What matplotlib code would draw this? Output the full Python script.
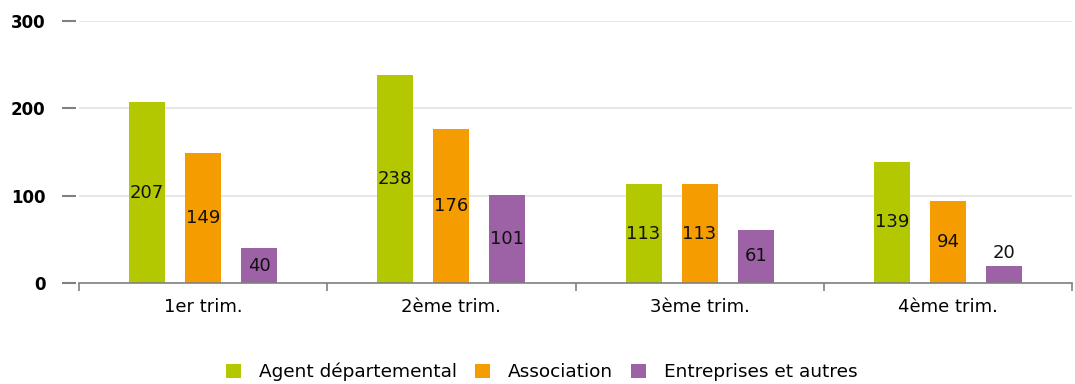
import numpy as np
import matplotlib
matplotlib.use("Agg")
import matplotlib.pyplot as plt

plt.rcParams['font.family'] = ['DejaVu Sans']

categories = ['1er trim.', '2ème trim.', '3ème trim.', '4ème trim.']
agent = [207, 238, 113, 139]
association = [149, 176, 113, 94]
entreprises = [40, 101, 61, 20]
series_names = ['Agent départemental', 'Association', 'Entreprises et autres']
colors = ['#b3c800', '#f59d00', '#9d62a6']

fig = plt.figure(figsize=(10.75, 3.84), dpi=100)
ax = fig.add_axes([79 / 1075, 1 - 283 / 384, (1072 - 79) / 1075, (283 - 21) / 384])

x = np.arange(len(categories))
width = 0.145
step = 0.226
for i, (vals, name, col) in enumerate(zip([agent, association, entreprises], series_names, colors)):
    pos = x + (i - 1) * step
    ax.bar(pos, vals, width=width, color=col, label=name, zorder=2)
    for p, v in zip(pos, vals):
        if v >= 30:
            ax.text(p, v / 2, str(v), ha='center', va='center', fontsize=13, color='#111111', zorder=3)
        else:
            ax.text(p, v + 4, str(v), ha='center', va='bottom', fontsize=13, color='#111111', zorder=3)

ax.set_xlim(-0.5, 3.5)
ax.set_ylim(0, 300)
ax.set_yticks([0, 100, 200, 300])
ax.yaxis.grid(True, color='#e3e3e3', linewidth=1.2, zorder=0)
ax.set_axisbelow(True)

for s in ['top', 'right', 'left']:
    ax.spines[s].set_visible(False)
ax.spines['bottom'].set_color('#808080')
ax.spines['bottom'].set_linewidth(1.2)
ax.spines['left'].set_position(('outward', 2.2))

ax.tick_params(axis='y', length=10, width=1.5, color='#808080', pad=12)
for lab in ax.get_yticklabels():
    lab.set_fontweight('bold')
    lab.set_fontsize(12)

ax.set_xticks(x)
ax.set_xticklabels(categories, fontsize=13)
ax.set_xticks(np.arange(-0.5, 4.0, 1.0), minor=True)
ax.tick_params(axis='x', which='major', length=0, pad=11)
ax.tick_params(axis='x', which='minor', length=6, width=1.2, color='#808080')

fig.legend(loc='center', bbox_to_anchor=(0.504, 1 - 372 / 384), ncol=3, frameon=False,
           fontsize=13.3, handlelength=0.8, handleheight=0.8, handletextpad=0.95, columnspacing=1.0)

fig.savefig('out.png', dpi=100)
